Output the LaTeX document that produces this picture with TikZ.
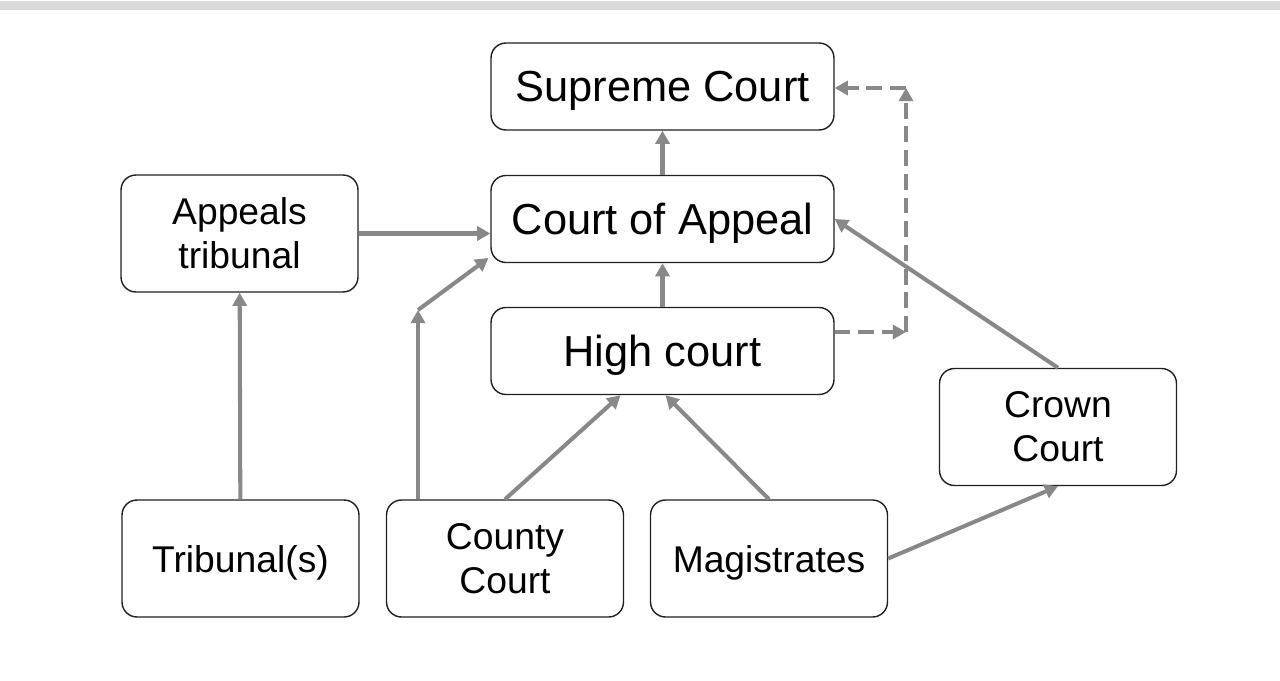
\documentclass[tikz,border=0pt]{standalone}
\usepackage{fontspec}
\setmainfont{Liberation Sans}
\usepackage{tikz}
\usetikzlibrary{arrows.meta,positioning}

\definecolor{linkgray}{HTML}{888888}
\definecolor{bargray}{HTML}{D9D9D9}
\definecolor{boxline}{HTML}{202020}

\begin{document}
\begin{tikzpicture}[x=0.02cm, y=-0.02cm]
				\tikzstyle{Court} 	= [draw=boxline, line width=0.8pt, rounded corners=8.5pt, fill=white, align=center, inner sep=0pt]
				\tikzstyle{Wide}		= [minimum width=6.86cm, minimum height=1.74cm, text depth=0pt, font=\fontsize{24.7}{29}\selectfont]
				\tikzstyle{Small}		= [minimum width=4.74cm, minimum height=2.34cm, font=\fontsize{21.2}{25}\selectfont]
				\tikzstyle{Link}		= [draw=linkgray, line width=2.3pt, -{Triangle[length=7.5pt, width=8pt]}]
				\tikzstyle{Leap}		= [Link, dash pattern=on 9pt off 4.5pt]
				
				\useasboundingbox (0,0) rectangle (1280,680);
				\fill [bargray] (0,1) rectangle (1280,9.5);
				
				\node (sc) at (662.5,86.5) [Court][Wide] {Supreme Court};
				\node (coa) at (662.5,219) [Court][Wide] {Court of Appeal};
				\node (hc) at (662.5,351) [Court][Wide] {High court};
				
				\node (apt) at (239.5,233.5) [Court][Small] {Appeals\\tribunal};
				\node (crc) at (1058,427) [Court][Small] {Crown\\Court};
				\node (trb) at (240.5,558.5) [Court][Small, text depth=0pt] {Tribunal(s)};
				\node (cty) at (505,558.5) [Court][Small] {County\\Court};
				\node (mag) at (769,558.5) [Court][Small, text depth=0pt] {Magistrates};
				
				\coordinate (bend) at (418,310);
				\coordinate (dbot) at (906,332);
				\coordinate (dtop) at (906,88);
				
				\draw [Link] (coa) to (sc);
				\draw [Link] (hc) to (coa);
				\draw [Link] (apt.east) to (apt.east -| coa.west);
				\draw [Link] (trb) to (apt);
				\draw [Link] (cty.north -| bend) to (bend);
				\draw [Link] (bend) to ([xshift=-1pt, yshift=3pt]coa.south west);
				\draw [Link] (cty.north) to ([xshift=-0.84cm]hc.south);
				\draw [Link] (mag.north) to ([xshift=0.06cm]hc.south);
				\draw [Link] (mag.east) to (crc.south);
				\draw [Link] (crc.north) to (coa.east);
				
				\draw [Leap] (hc.east |- dbot) to (dbot);
				\draw [Leap] (dbot) to (dtop);
				\draw [Leap] (dtop) to (sc.east |- dtop);
\end{tikzpicture}
\end{document}
